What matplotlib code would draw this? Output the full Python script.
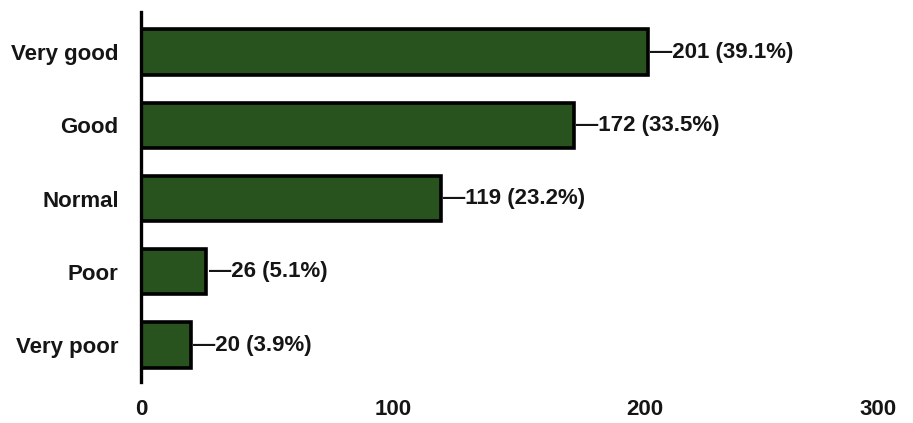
import matplotlib
matplotlib.use('Agg')
import matplotlib.pyplot as plt

# ratings and how many people gave them
categories = ['Very good', 'Good', 'Normal', 'Poor', 'Very poor']
counts = [201, 172, 119, 26, 20]
percents = [39.1, 33.5, 23.2, 5.1, 3.9]
xticks = [0, 100, 200, 300]

plt.rcParams['font.family'] = ['Liberation Sans', 'DejaVu Sans']

fig = plt.figure(figsize=(9.13, 4.23), dpi=100)
ax = fig.add_axes([0.1544, 0.0969, 0.8281, 0.8747])

pos = range(len(categories))
ax.barh(pos, counts, height=0.62, color='#28521e', edgecolor='black', linewidth=2.6)

# value labels with a little dash at the end of each bar
for i, (c, p) in enumerate(zip(counts, percents)):
    ax.text(c + 0.8, i, '\u2014%d (%.1f%%)' % (c, p), va='center', ha='left',
            fontsize=16, fontweight='bold', color='#151515')

ax.set_yticks(list(pos))
ax.set_yticklabels(categories, fontsize=16, fontweight='bold', color='#151515')
ax.set_xticks(xticks)
ax.set_xticklabels([str(t) for t in xticks], fontsize=16, fontweight='bold', color='#151515')
ax.get_xticklabels()[-1].set_horizontalalignment('right')  # keep "300" inside the figure
ax.set_xlim(0, 300)
ax.set_ylim(4.505, -0.546)
ax.tick_params(axis='y', length=0, pad=16)
ax.tick_params(axis='x', length=0, pad=12)

for s in ['top', 'right', 'bottom']:
    ax.spines[s].set_visible(False)
ax.spines['left'].set_linewidth(2.4)

fig.savefig('out.png', dpi=100)
